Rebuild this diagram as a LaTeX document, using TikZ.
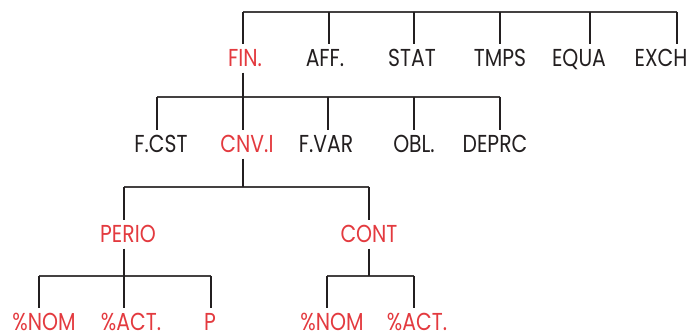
\documentclass[tikz,border=0pt]{standalone}
\usepackage{fontspec}
\setmainfont{Poppins}[FakeStretch=0.83]
\definecolor{hpred}{HTML}{E33A3F}
\definecolor{hpblk}{HTML}{231F20}
\begin{document}
\begin{tikzpicture}[x=1pt,y=-1pt,
  lbl/.style={anchor=base,inner xsep=0pt,inner ysep=5.5pt,text height=17pt,text depth=0pt,
    font=\fontsize{24.5}{24.5}\selectfont,text=hpblk},
  rlbl/.style={lbl,text=hpred},
  hl/.style={draw=hpblk!85,line width=1.2pt},
  vl/.style={draw=hpblk,line width=2pt}]
\useasboundingbox (0,0) rectangle (689,331);
% row 1
\node[rlbl] (fin) at (245,67) {FIN.};
\node[lbl] (aff) at (325,67) {AFF.};
\node[lbl] (stat) at (412,67) {STAT};
\node[lbl] (tmps) at (500,67) {TMPS};
\node[lbl] (equa) at (579,67) {EQUA};
\node[lbl] (exch) at (661,67) {EXCH};
% row 2
\node[lbl] (fcst) at (161,153) {F.CST};
\node[rlbl] (cnvi) at (247,153) {CNV.I};
\node[lbl] (fvar) at (326,153) {F.VAR};
\node[lbl] (obl) at (414,153) {OBL.};
\node[lbl] (deprc) at (495,153) {DEPRC};
% row 3
\node[rlbl] (perio) at (128,243) {PERIO};
\node[rlbl] (cont) at (369,243) {CONT};
% row 4
\node[rlbl] (pnom) at (44,331) {\%NOM};
\node[rlbl] (pact) at (131,331) {\%ACT.};
\node[rlbl] (pp) at (210,331) {P};
\node[rlbl] (cnom) at (332,331) {\%NOM};
\node[rlbl] (cact) at (417,331) {\%ACT.};
% junctions
\coordinate (a1) at (243,12); \coordinate (a2) at (329,12); \coordinate (a3) at (414,12);
\coordinate (a4) at (500,12); \coordinate (a5) at (590,12); \coordinate (a6) at (677,12);
\coordinate (b0) at (243,97);
\coordinate (b1) at (157,97); \coordinate (b3) at (328,97); \coordinate (b4) at (414,97); \coordinate (b5) at (500,97);
\coordinate (c0) at (243,187); \coordinate (c1) at (124,187); \coordinate (c2) at (369,187);
\coordinate (d0) at (124,276); \coordinate (d1) at (39,276); \coordinate (d3) at (211,276);
\coordinate (e0) at (369,276); \coordinate (e1) at (327,276); \coordinate (e2) at (414,276);
% bars
\draw[hl] (a1) -- (a6);
\draw[hl] (b1) -- (b5);
\draw[hl] (c1) -- (c2);
\draw[hl] (d1) -- (d3);
\draw[hl] (e1) -- (e2);
% level 1 drops
\foreach \j/\n in {a1/fin,a2/aff,a3/stat,a4/tmps,a5/equa,a6/exch}
  \draw[vl] (\j) -- (\j |- \n.north);
% FIN down
\draw[vl] (b0 |- fin.south) -- (b0);
\foreach \j/\n in {b1/fcst,b0/cnvi,b3/fvar,b4/obl,b5/deprc}
  \draw[vl] (\j) -- (\j |- \n.north);
% CNV.I down
\draw[vl] (c0 |- cnvi.south) -- (c0);
\foreach \j/\n in {c1/perio,c2/cont}
  \draw[vl] (\j) -- (\j |- \n.north);
% PERIO / CONT down
\draw[vl] (d0 |- perio.south) -- (d0);
\draw[vl] (e0 |- cont.south) -- (e0);
\foreach \j/\n in {d1/pnom,d0/pact,d3/pp,e1/cnom,e2/cact}
  \draw[vl] (\j) -- (\j |- \n.north);
\end{tikzpicture}
\end{document}
